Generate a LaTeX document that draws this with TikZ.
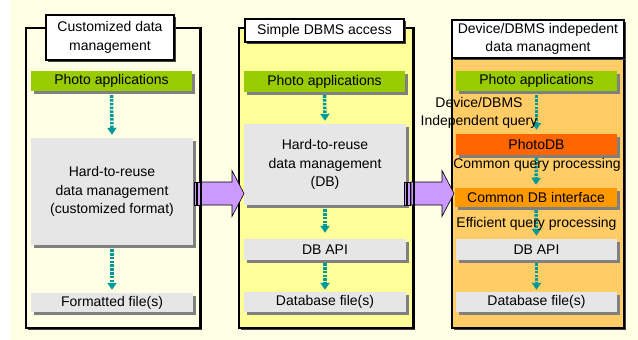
\documentclass[tikz,border=0pt]{standalone}
\usepackage{fontspec}
\setmainfont{Liberation Sans}
\usetikzlibrary{arrows.meta,shadows}

\definecolor{bgcream}{HTML}{FFFFE6}
\definecolor{panelyellow}{HTML}{FFFF99}
\definecolor{panelorange}{HTML}{FFCC66}
\definecolor{appgreen}{HTML}{99CC00}
\definecolor{boxgrey}{HTML}{E6E6E6}
\definecolor{photodbred}{HTML}{FF6600}
\definecolor{ifaceorange}{HTML}{FF9900}
\definecolor{flowteal}{HTML}{009999}
\definecolor{movelilac}{HTML}{CC99FF}

\tikzset{
  panel/.style={draw=black, line width=1.6pt, minimum width=#1, inner sep=0pt,
    drop shadow={shadow xshift=2pt, shadow yshift=-2pt, fill=black!75, opacity=1}},
  titlebox/.style={draw=black, line width=1.2pt, fill=white, align=center, inner sep=0pt,
    drop shadow={shadow xshift=2pt, shadow yshift=-2pt, fill=black!75, opacity=1}},
  layer/.style={fill=boxgrey, align=center, inner sep=0pt, minimum width=161pt,
    drop shadow={shadow xshift=2.5pt, shadow yshift=-2.5pt, fill=black!50, opacity=1}},
  flow/.style={draw=flowteal, line width=3.5pt, dash pattern=on 2.6pt off 1.2pt,
    -{Triangle[width=9pt,length=7pt,fill=flowteal]}},
  move/.style={draw=black, line width=0.6pt, fill=movelilac},
  note/.style={align=center, inner sep=0pt}
}

\begin{document}
\fontsize{14}{18.5}\selectfont
\begin{tikzpicture}[x=1pt,y=-1pt]
\useasboundingbox (0,0) rectangle (638,340);
\fill[bgcream] (10,0) rectangle (638,340);

% the three panels
\node[panel=174pt, minimum height=300pt, fill=bgcream] (pcustom) at (113,178) {};
\node[panel=174pt, minimum height=300pt, fill=panelyellow] (psimple) at (326,178) {};
\node[panel=172pt, minimum height=308pt, fill=panelorange] (pindep) at (538,174) {};

% titles
\node[titlebox, minimum width=128pt, minimum height=45pt] (tcustom) at (110,37.5)
  {Customized data\\management};
\node[titlebox, minimum width=159pt, minimum height=23pt] (tsimple) at (324.5,30.5)
  {Simple DBMS access};
\node[titlebox, minimum width=172pt, minimum height=38pt] (tindep) at (538,39)
  {Device/DBMS indepedent\\data managment};

% panel 1: customized data management
\node[layer, fill=appgreen, minimum height=20pt] (appA) at (111.5,81) {Photo applications};
\node[layer, minimum width=162pt, minimum height=107pt] (hardA) at (112,191.5)
  {Hard-to-reuse\\data management\\(customized format)};
\node[layer, minimum width=162pt, minimum height=19pt] (fileA) at (112,302.5) {Formatted file(s)};

% panel 2: simple DBMS access
\node[layer, fill=appgreen, minimum height=21pt] (appB) at (324.5,81.5) {Photo applications};
\node[layer, minimum width=162pt, minimum height=81pt] (hardB) at (325,164.5)
  {Hard-to-reuse\\data management\\(DB)};
\node[layer, minimum width=162pt, minimum height=21pt] (apiB) at (325,249.5) {DB API};
\node[layer, minimum width=162pt, minimum height=20pt] (fileB) at (325,302) {Database file(s)};

% panel 3: device/DBMS independent
\node[layer, fill=appgreen, minimum height=20pt] (appC) at (536.5,81) {Photo applications};
\node[layer, fill=photodbred, minimum height=21pt] (photodb) at (536.5,144.5) {PhotoDB};
\node[layer, fill=ifaceorange, minimum width=162pt, minimum height=19pt] (ifaceC) at (536,197.5)
  {Common DB interface};
\node[layer, minimum height=21pt] (apiC) at (536.5,249.5) {DB API};
\node[layer, minimum height=20pt] (fileC) at (536.5,302) {Database file(s)};

% dotted flows
\draw[flow] ([yshift=-4pt]appA.south) -- ([yshift=3pt]hardA.north);
\draw[flow] ([yshift=-4pt]hardA.south) -- ([yshift=3pt]fileA.north);
\draw[flow] ([yshift=-3pt]appB.south) -- ([yshift=3pt]hardB.north);
\draw[flow] ([yshift=-4pt]hardB.south) -- ([yshift=6pt]apiB.north);
\draw[flow] ([yshift=-3pt]apiB.south) -- ([yshift=2pt]fileB.north);
\draw[flow] ([yshift=-4pt]appC.south) -- ([yshift=4pt]photodb.north);
\draw[flow] ([yshift=-3pt]photodb.south) -- ([yshift=3pt]ifaceC.north);
\draw[flow] ([yshift=-3pt]ifaceC.south) -- ([yshift=3pt]apiC.north);
\draw[flow] ([yshift=-3pt]apiC.south) -- ([yshift=2pt]fileC.north);

% flow labels
\node[note] (lquery) at (479,113) {Device/DBMS\\Independent query};
\node[note] (lcommon) at (537,165) {Common query processing};
\node[note] (lefficient) at (536.5,224) {Efficient query processing};

% striped arrows between panels
\foreach \tail/\name in {194/moveA, 404/moveB} {
  \draw[move] (\tail,182) rectangle ++(2,23);
  \draw[move] (\tail+3.5,182) rectangle ++(2.5,23);
  \draw[move] (\tail+7,182) -- (\tail+38,182) -- (\tail+38,170.5)
    -- (\tail+50,193.5) -- (\tail+38,216.5) -- (\tail+38,205) -- (\tail+7,205) -- cycle;
  \coordinate (\name) at (\tail+50,193.5);
}

% panel edges over the arrow tails
\draw[line width=1.6pt] (pcustom.north east) -- (pcustom.south east);
\draw[line width=1.6pt] (psimple.north east) -- (psimple.south east);
\end{tikzpicture}
\end{document}
